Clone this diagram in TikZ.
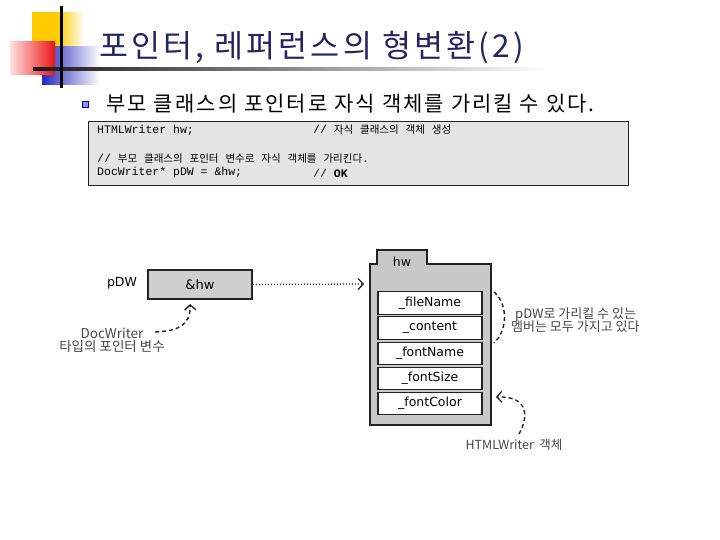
\documentclass[tikz,border=0pt]{standalone}
\usepackage{fontspec}
\newfontfamily\kr{Noto Sans CJK KR}
\newfontfamily\krwide[LetterSpace=10]{Noto Sans CJK KR}
\newfontfamily\codemono{Liberation Mono}
\newfontfamily\hand{DejaVu Sans}
\usetikzlibrary{arrows.meta}
\definecolor{titlecol}{RGB}{36,36,100}
\definecolor{codebg}{RGB}{228,228,228}
\definecolor{boxgray}{RGB}{207,207,207}
\definecolor{contgray}{RGB}{200,200,200}
\definecolor{ink}{RGB}{34,34,34}
\definecolor{notecol}{RGB}{70,70,70}
\definecolor{logoyellow}{RGB}{255,204,0}
\definecolor{logoblue}{RGB}{40,40,190}
\definecolor{logored}{RGB}{235,20,20}
\newcommand{\K}[1]{{\kr\fontsize{10.5}{12}\selectfont #1}}
\begin{document}
\begin{tikzpicture}[x=1pt,y=-1pt,
  codeline/.style={anchor=west,inner sep=0pt,font=\codemono\fontsize{11.5}{13}\selectfont},
  field/.style={draw=ink,line width=1.2pt,fill=white,minimum width=104pt,minimum height=22.5pt,inner sep=0pt,font=\hand\fontsize{12.5}{14}\selectfont},
  note/.style={inner sep=0pt,text=notecol,font=\kr\fontsize{13.5}{15}\selectfont,align=center},
  dashcurve/.style={draw=ink,line width=1.4pt,dash pattern=on 4pt off 3pt},
  barb/.style={-{Straight Barb[length=5pt,width=11pt,line width=1.3pt]}}
]
\useasboundingbox (0,0) rectangle (720,540);
% logo
\shade[left color=logoyellow,right color=white,middle color=logoyellow] (32,13) rectangle (84,60);
\shade[left color=logoblue,right color=white] (42,47) rectangle (100,85);
\shade[left color=red!12,right color=logored] (10,42) rectangle (55,75);
\shade[left color=black!90,right color=white] (33,68) rectangle (548,71);
\fill[black] (60,6) rectangle (62.5,88);
% title and bullet
\node[anchor=west,inner sep=0pt,text=titlecol,font=\krwide\fontsize{31.5}{34}\selectfont] (title) at (99,47) {포인터, 레퍼런스의 형변환(2)};
\node[fill=blue!45!white,draw=blue!50!black,line width=0.4pt,minimum size=6pt,inner sep=0pt] (bullet) at (85,104) {};
\node[anchor=west,inner sep=0pt,font=\krwide\fontsize{21}{23}\selectfont] (sent) at (106,104) {부모 클래스의 포인터로 자식 객체를 가리킬 수 있다.};
% code box
\node[draw=ink,line width=1pt,fill=codebg,minimum width=540pt,minimum height=64pt,anchor=north west,inner sep=0pt] (code) at (88,121) {};
\node[codeline] (c1) at (97,130) {HTMLWriter hw;};
\node[codeline] (c1b) at (313,130) {// \K{자식} \K{클래스의} \K{객체} \K{생성}};
\node[codeline] (c3) at (97,159) {// \K{부모} \K{클래스의} \K{포인터} \K{변수로} \K{자식} \K{객체를} \K{가리킨다}.};
\node[codeline] (c4) at (97,173) {DocWriter* pDW = \&hw;};
\node[codeline] (c4b) at (313,173) {// \textbf{OK}};
% pointer box
\node[draw=ink,line width=1.5pt,fill=boxgray,minimum width=104pt,minimum height=29pt,inner sep=0pt,font=\hand\fontsize{13}{15}\selectfont] (pdw) at (200,284.5) {\&hw};
\node[inner sep=0pt,font=\hand\fontsize{12.5}{14}\selectfont] (pdwlab) at (122,283) {pDW};
% object container
\draw[draw=ink,line width=1.5pt,fill=contgray] (370,264) -- (377,264) -- (377,250) -- (427,250) -- (427,264) -- (491,264) -- (491,425) -- (370,425) -- cycle;
\node[inner sep=0pt,font=\hand\fontsize{12.5}{14}\selectfont] (hw) at (402,262) {hw};
\node[field] (f1) at (430,303) {\_fileName};
\node[field] (f2) at (430,328) {\_content};
\node[field] (f3) at (430,353.5) {\_fontName};
\node[field] (f4) at (430,378.5) {\_fontSize};
\node[field] (f5) at (430,403.5) {\_fontColor};
\coordinate (hwtip) at (364,284);
\draw[draw=ink,line width=1.3pt,dash pattern=on 1pt off 2pt,barb] (pdw.east) -- (hwtip);
% notes
\node[note] (doclab) at (112,340) {DocWriter\\[-2pt]타입의 포인터 변수};
\coordinate (docstart) at (155,332);
\coordinate (doctip) at (190,304);
\draw[dashcurve,barb] (docstart) .. controls (177,331) and (191,326) .. (doctip);
\node[note,align=left,anchor=west,font=\kr\fontsize{13}{15}\selectfont] (memb) at (511,320) {\hspace*{4pt}pDW로 가리킬 수 있는\\[-2pt]멤버는 모두 가지고 있다};
\coordinate (brtop) at (494,292);
\coordinate (brbot) at (494,343);
\draw[dashcurve] (brtop) .. controls (508,304) and (508,330) .. (brbot);
\node[note,font=\kr\fontsize{12.5}{15}\selectfont] (htmllab) at (514,445) {HTMLWriter\ \ 객체};
\coordinate (hstart) at (519,434);
\coordinate (htip) at (496,397);
\draw[dashcurve,barb] (hstart) .. controls (528,418) and (530,396) .. (htip);
\end{tikzpicture}
\end{document}
